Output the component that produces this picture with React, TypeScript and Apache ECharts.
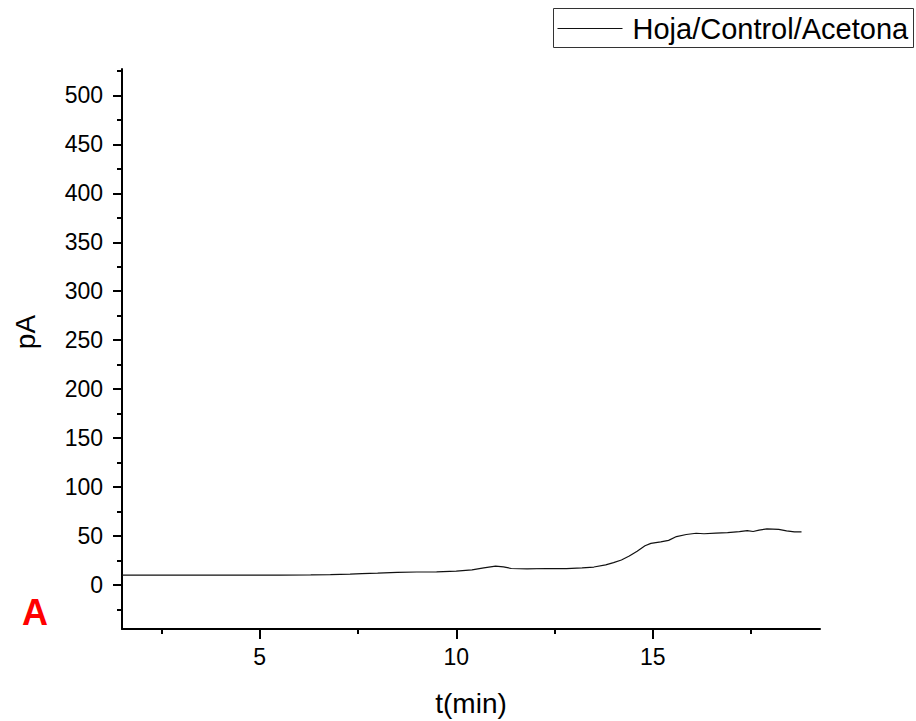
import React, { useEffect, useRef } from "react";
import * as echarts from "echarts";

// Retention time (min) and detector signal (pA) for the acetone control extract
const timeMin = [
  1.5, 3.0, 4.5, 5.5, 6.3, 6.8, 7.3, 7.6, 8.0, 8.5, 9.0, 9.5, 10.0, 10.4, 10.7,
  11.0, 11.2, 11.4, 11.8, 12.3, 12.8, 13.2, 13.5, 13.8, 14.0, 14.2, 14.4, 14.6,
  14.8, 14.95, 15.2, 15.4, 15.6, 15.85, 16.1, 16.3, 16.6, 16.9, 17.2, 17.4,
  17.55, 17.7, 17.9, 18.2, 18.4, 18.6, 18.78,
];
const signalPA = [
  10.0, 10.0, 10.0, 10.0, 10.2, 10.5, 11.0, 11.5, 12.0, 12.8, 13.2, 13.4, 14.2,
  15.3, 17.5, 19.2, 18.5, 16.8, 16.5, 16.8, 16.7, 17.5, 18.3, 20.5, 22.8, 25.5,
  29.5, 34.5, 40.0, 42.5, 44.0, 45.5, 49.4, 51.5, 52.8, 52.3, 53.0, 53.5, 54.5,
  55.5, 54.6, 56.0, 57.2, 56.8, 55.3, 54.3, 54.2,
];

const seriesName = "Hoja/Control/Acetona";
const xMajorTicks = [5, 10, 15];
const xMinorTicks = [2.5, 7.5, 12.5, 17.5];
const yMajorTicks = [0, 50, 100, 150, 200, 250, 300, 350, 400, 450, 500];
const yMinorTicks = [-25, 25, 75, 125, 175, 225, 275, 325, 375, 425, 475, 525];

const FONT = "'Liberation Sans', Arial, Helvetica, sans-serif";
const LINE_COLOR = "#111";

export default function App() {
  const ref = useRef<HTMLDivElement>(null);

  useEffect(() => {
    if (!ref.current) return;
    const chart = echarts.init(ref.current, undefined, { renderer: "svg" });

    const xRange = { min: 1.5, max: 19.25 };
    const yRange = { min: -45, max: 527 };
    const tickStyle = { color: "#000", width: 2 };

    chart.setOption({
      animation: false,
      backgroundColor: "#ffffff",
      grid: { left: 122, right: 96, top: 69, bottom: 92, containLabel: false },
      xAxis: [
        {
          type: "value",
          position: "bottom",
          ...xRange,
          axisLine: { show: true, onZero: false, lineStyle: tickStyle },
          axisTick: {
            show: true,
            inside: false,
            length: 10,
            lineStyle: tickStyle,
            customValues: xMajorTicks,
          },
          axisLabel: {
            customValues: xMajorTicks,
            margin: 16,
            fontFamily: FONT,
            fontSize: 23,
            color: "#000",
          },
          splitLine: { show: false },
        },
        {
          // minor ticks only
          type: "value",
          position: "bottom",
          ...xRange,
          axisLine: { show: false, onZero: false },
          axisTick: {
            show: true,
            inside: false,
            length: 5,
            lineStyle: tickStyle,
            customValues: xMinorTicks,
          },
          axisLabel: { show: false },
          splitLine: { show: false },
        },
      ],
      yAxis: [
        {
          type: "value",
          position: "left",
          ...yRange,
          axisLine: { show: true, onZero: false, lineStyle: tickStyle },
          axisTick: {
            show: true,
            inside: false,
            length: 9,
            lineStyle: tickStyle,
            customValues: yMajorTicks,
          },
          axisLabel: {
            customValues: yMajorTicks,
            margin: 19,
            fontFamily: FONT,
            fontSize: 23,
            color: "#000",
          },
          splitLine: { show: false },
        },
        {
          // minor ticks only
          type: "value",
          position: "left",
          ...yRange,
          axisLine: { show: false, onZero: false },
          axisTick: {
            show: true,
            inside: false,
            length: 5,
            lineStyle: tickStyle,
            customValues: yMinorTicks,
          },
          axisLabel: { show: false },
          splitLine: { show: false },
        },
      ],
      series: [
        {
          name: seriesName,
          type: "line",
          xAxisIndex: 0,
          yAxisIndex: 0,
          data: timeMin.map((t, i) => [t, signalPA[i]]),
          symbol: "none",
          showSymbol: false,
          smooth: false,
          lineStyle: { color: LINE_COLOR, width: 1.2 },
          itemStyle: { color: LINE_COLOR },
        },
      ],
      graphic: [
        // legend box
        {
          type: "group",
          left: 553,
          top: 8,
          children: [
            {
              type: "rect",
              shape: { x: 0, y: 0, width: 360, height: 39 },
              style: { fill: "#fff", stroke: "#333", lineWidth: 1 },
            },
            {
              type: "line",
              shape: { x1: 4, y1: 20, x2: 69, y2: 20 },
              style: { stroke: LINE_COLOR, lineWidth: 1.2 },
            },
            {
              type: "text",
              x: 79,
              y: 20,
              style: {
                text: seriesName,
                fontFamily: FONT,
                fontSize: 29,
                fill: "#000",
                align: "left",
                verticalAlign: "middle",
              },
            },
          ],
        },
        {
          type: "text",
          x: 25,
          y: 332,
          rotation: Math.PI / 2,
          style: {
            text: "pA",
            fontFamily: FONT,
            fontSize: 28,
            fill: "#000",
            align: "center",
            verticalAlign: "middle",
          },
        },
        {
          type: "text",
          x: 471,
          y: 703,
          style: {
            text: "t(min)",
            fontFamily: FONT,
            fontSize: 28,
            fill: "#000",
            align: "center",
            verticalAlign: "middle",
          },
        },
        {
          type: "text",
          x: 35,
          y: 612,
          style: {
            text: "A",
            fontFamily: FONT,
            fontSize: 36,
            fontWeight: "bold",
            fill: "#ff0000",
            align: "center",
            verticalAlign: "middle",
          },
        },
      ],
    });

    return () => chart.dispose();
  }, []);

  return (
    <div
      ref={ref}
      style={{ position: "fixed", left: 0, top: 0, width: 916, height: 721, background: "#fff" }}
    />
  );
}
